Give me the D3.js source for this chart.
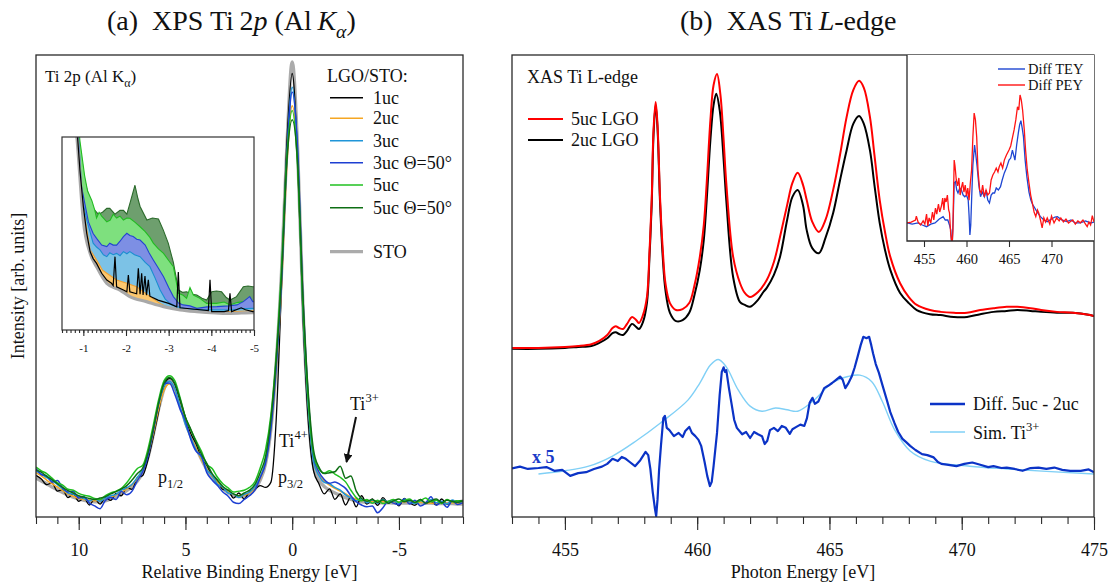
<!DOCTYPE html>
<html>
<head>
<meta charset="utf-8">
<script src="https://cdn.jsdelivr.net/npm/d3@7"></script>
<style>
  body { margin: 0; background: #fff; }
  svg { display: block; }
  text { font-family: "Liberation Serif", "Times New Roman", serif; fill: #111; }
</style>
</head>
<body>
<svg id="fig" width="1109" height="588"></svg>
<script>
// ---------------- Panel (a): XPS Ti 2p ----------------
// Relative binding energy grid (eV) shared by all XPS traces
const xpsEnergy = [
  12,11.75,11.5,11.25,11,10.75,10.5,10.25,10,9.75,
  9.5,9.25,9,8.75,8.5,8.25,8,7.75,7.5,7.25,
  7,6.75,6.5,6.25,6,5.75,5.5,5.25,5,4.75,
  4.5,4.25,4,3.75,3.5,3.25,3,2.75,2.5,2.25,
  2,1.75,1.5,1.25,1,0.75,0.5,0.25,0,-0.25,
  -0.5,-0.75,-1,-1.25,-1.5,-1.75,-2,-2.25,-2.5,-2.75,
  -3,-3.25,-3.5,-3.75,-4,-4.25,-4.5,-4.75,-5,-5.25,
  -5.5,-5.75,-6,-6.25,-6.5,-6.75,-7,-7.25,-7.5,-7.75,
  -8
];
const xpsSTO = [
  8.4,7.8,7.2,6.5,5.9,5.3,4.8,4.3,3.9,3.6,
  3.4,3.3,3.3,3.5,3.9,4.4,5.0,5.7,6.6,7.8,
  9.6,13.0,18.0,23.5,27.8,29.6,28.3,24.5,20.5,17.5,
  15.0,12.5,10.3,8.6,7.3,6.2,5.3,4.7,4.4,4.5,
  5.0,6.0,8.0,11.5,19.0,33.0,53.0,80.0,98.5,80.0,
  46.0,23.0,11.0,8.0,6.6,5.8,5.2,4.7,4.2,3.8,
  3.5,3.3,3.2,3.2,3.1,3.1,3.1,3.0,3.0,3.0,
  3.0,3.0,3.0,3.0,3.0,2.9,2.9,2.9,2.9,2.8,
  2.8
];
const xps1uc = [
  9.0,8.2,7.0,7.4,5.6,5.9,4.2,5.0,3.4,4.1,
  2.6,3.9,2.8,4.2,3.6,5.1,4.6,6.4,6.0,8.5,
  9.0,12.5,17.5,23.0,28.5,30.0,28.8,25.0,21.5,18.0,
  15.8,12.6,11.2,8.9,7.8,6.0,5.8,4.1,5.2,3.9,
  5.5,6.0,6.8,6.4,7.5,21.0,50.0,81.0,96.0,78.0,
  44.0,21.0,10.0,7.2,5.0,6.1,3.8,5.0,2.6,4.4,
  2.2,4.6,2.8,3.9,2.5,4.2,3.0,3.6,2.4,4.0,
  3.1,2.5,3.8,2.9,3.4,2.6,3.9,2.8,3.3,3.5,
  3.6
];
const xps2uc = [
  9.6,8.9,8.0,7.2,6.5,5.7,5.0,4.5,4.0,3.8,
  3.6,3.5,3.7,3.9,4.3,4.8,5.4,6.1,7.0,8.3,
  10.2,13.5,18.2,23.6,27.5,28.8,27.6,24.2,20.4,17.3,
  14.9,12.4,10.4,8.8,7.5,6.4,5.5,4.9,4.6,4.7,
  5.2,6.2,8.3,11.8,19.0,32.0,50.0,76.0,89.0,78.0,
  47.0,25.0,12.5,9.3,7.8,6.9,6.2,5.6,5.0,4.3,
  3.9,3.6,3.5,3.4,3.4,3.3,3.3,3.3,3.2,3.3,
  3.2,3.1,3.2,3.1,3.0,3.1,3.0,3.0,3.1,2.9,
  3.0
];
const xps3uc = [
  10.0,9.3,8.5,7.9,7.0,6.1,5.2,4.9,4.4,4.0,
  3.5,3.9,3.4,4.1,4.6,4.9,5.8,6.3,7.1,8.6,
  10.4,14.0,19.0,24.5,28.4,29.4,27.8,24.0,20.0,17.2,
  14.5,12.9,10.2,9.0,7.1,6.5,5.2,5.0,4.2,4.9,
  5.4,6.6,8.6,12.0,19.5,33.0,52.0,78.0,93.0,79.0,
  46.0,24.0,12.0,9.0,7.5,7.2,6.4,5.8,4.8,4.1,
  3.5,3.9,3.1,3.7,3.0,3.8,3.2,3.5,2.9,3.9,
  3.3,2.9,3.6,3.0,3.8,3.1,3.4,2.8,3.7,3.2,
  3.4
];
const xps3uc50 = [
  10.5,9.2,8.9,7.6,7.9,6.3,5.4,5.6,4.1,4.4,
  3.0,2.4,1.8,3.6,4.2,3.8,5.5,4.8,5.6,7.9,
  9.8,13.2,18.8,24.8,28.9,29.0,26.6,23.3,20.8,16.8,
  14.2,13.2,9.6,8.0,6.8,5.4,4.5,3.2,2.9,3.8,
  4.6,5.8,8.5,11.6,19.0,32.5,51.0,78.0,92.0,80.0,
  48.0,26.0,13.0,9.8,8.1,7.3,7.6,7.0,6.2,4.6,
  3.3,2.6,2.2,2.4,0.9,2.0,3.4,3.0,2.6,3.9,
  2.8,3.6,2.4,3.0,4.4,2.6,3.2,2.1,3.5,2.7,
  3.1
];
const xps5uc = [
  10.8,10.0,9.4,8.4,7.4,6.9,6.0,5.8,5.1,4.7,
  4.5,4.0,3.8,4.6,5.2,5.6,6.2,7.4,9.0,10.5,
  11.2,14.8,20.0,25.5,29.5,30.6,29.5,25.8,21.5,18.8,
  16.5,14.2,11.4,10.5,8.6,7.2,6.3,5.4,5.6,5.8,
  6.4,7.6,10.6,14.5,22.0,35.0,54.0,78.0,88.0,76.0,
  46.0,25.0,13.5,10.4,9.5,10.0,9.3,8.6,7.6,5.8,
  4.2,3.5,3.8,3.0,3.6,2.9,3.4,3.8,3.2,3.6,
  3.9,3.1,3.5,4.1,3.3,3.6,2.9,3.8,3.3,3.5,
  3.4
];
const xps5uc50 = [
  10.2,9.7,8.8,8.1,7.2,6.4,5.7,5.2,4.6,4.3,
  4.0,3.8,4.1,4.4,5.0,5.5,6.1,6.8,8.0,9.4,
  10.6,14.0,19.2,24.8,29.0,30.2,28.9,25.5,21.6,19.0,
  16.2,13.6,11.6,9.4,8.0,6.6,5.8,5.0,4.6,5.2,
  5.8,7.0,9.6,13.0,21.0,34.0,52.0,77.0,86.0,77.0,
  48.0,27.0,14.5,10.8,9.4,9.6,9.8,11.0,8.4,8.9,
  5.6,4.0,3.4,3.8,3.2,3.7,3.0,3.5,3.9,3.3,
  3.6,3.2,3.8,3.0,3.5,3.9,3.1,3.6,3.4,3.2,
  3.5
];

// Zoom of the Ti3+ region: [relative binding energy, intensity]
const zoomSTO = [[-0.45,300],[-0.80,115],[-0.88,91.5],[-1.0,57],[-1.16,39.7],[-1.31,32.8],[-1.55,24.2],[-1.86,20.7],[-2.09,17.3],[-2.48,14.7],[-2.88,12.1],[-3.27,10.4],[-3.66,9.5],[-4.44,8.6],[-4.97,9.0],[-5.1,9.0]];
const zoom1uc = [[-0.45,300],[-0.80,120],[-0.92,82.9],[-1.0,64],[-1.08,50],[-1.16,40.5],[-1.23,37],[-1.31,34.5],[-1.43,29.4],[-1.55,25.9],[-1.66,24.2],[-1.70,23],[-1.742,38],[-1.78,22.4],[-1.94,20.7],[-2.02,19.8],[-2.055,28.5],[-2.09,19.8],[-2.25,18.8],[-2.289,32],[-2.33,18.5],[-2.367,29.4],[-2.40,18.2],[-2.445,28],[-2.48,18],[-2.523,26],[-2.56,17.5],[-2.75,15.5],[-3.0,13.8],[-3.19,12],[-3.226,30],[-3.265,11.5],[-3.5,11],[-3.93,10],[-3.969,26],[-4.008,9.5],[-4.3,9.5],[-4.40,10],[-4.437,19],[-4.475,9.5],[-4.7,11.5],[-4.8,10.5],[-4.97,9.5],[-5.1,9.5]];
const zoom2uc = [[-0.45,300],[-0.80,110],[-0.92,74],[-1.08,52],[-1.16,41.5],[-1.31,36.3],[-1.45,31],[-1.55,29.4],[-1.78,25.9],[-2.02,24.2],[-2.25,22.4],[-2.4,20],[-2.56,17.3],[-2.8,13.8],[-3.03,11.2],[-3.5,9.5],[-4.1,9.5],[-4.5,9.6],[-4.97,10],[-5.1,10]];
const zoom3uc = [[-0.45,300],[-0.80,125],[-0.96,69],[-1.08,57],[-1.23,45],[-1.31,43],[-1.39,41.5],[-1.47,39],[-1.55,38],[-1.62,40],[-1.70,39],[-1.78,39.7],[-1.86,38.5],[-1.94,40.6],[-2.02,39.5],[-2.09,40.6],[-2.20,39],[-2.33,38],[-2.45,35],[-2.56,32.8],[-2.68,27],[-2.8,20.7],[-2.92,16],[-3.03,13.8],[-3.19,12.1],[-3.4,11],[-3.66,10.4],[-4.0,10.5],[-4.44,10.4],[-4.7,11],[-4.97,11.2],[-5.1,11.2]];
const zoom3uc50 = [[-0.45,300],[-0.80,130],[-0.96,74],[-1.04,65],[-1.12,56],[-1.23,50],[-1.31,47.5],[-1.43,44],[-1.55,43.2],[-1.62,45],[-1.70,44],[-1.78,44],[-1.86,46],[-1.94,48.4],[-2.02,50.1],[-2.09,49],[-2.17,48.4],[-2.25,47],[-2.33,46.6],[-2.45,44],[-2.54,40],[-2.64,36.3],[-2.76,32],[-2.88,27.6],[-3.0,22],[-3.11,17.3],[-3.23,14],[-3.34,13],[-3.5,12.5],[-3.66,11.2],[-3.9,12],[-4.13,12.1],[-4.4,12.5],[-4.6,13],[-4.75,14.7],[-4.9,17.3],[-4.97,14.7],[-5.1,14.7]];
const zoom5uc = [[-0.45,300],[-0.80,130],[-0.92,98],[-1.03,80],[-1.10,72],[-1.2,67],[-1.27,62],[-1.31,58],[-1.37,61],[-1.43,59],[-1.55,56],[-1.63,57],[-1.70,60],[-1.78,58],[-1.86,59],[-1.94,57],[-2.02,58],[-2.09,57.9],[-2.2,56],[-2.33,53.5],[-2.45,51],[-2.56,48],[-2.64,45],[-2.76,42],[-2.88,39.7],[-3.0,36],[-3.11,32.8],[-3.23,19],[-3.34,18],[-3.42,16.4],[-3.5,22],[-3.58,18.1],[-3.73,16.4],[-3.89,13.8],[-4.12,13.8],[-4.30,14.5],[-4.44,13],[-4.6,14.2],[-4.75,14.7],[-4.97,14.7],[-5.1,14.7]];
const zoom5uc50 = [[-0.45,300],[-0.80,130],[-0.88,98],[-1.0,80],[-1.12,70],[-1.23,63],[-1.35,60],[-1.45,61],[-1.55,63],[-1.62,63],[-1.74,60],[-1.86,62],[-1.94,62],[-2.02,60],[-2.11,67],[-2.21,75],[-2.28,68],[-2.33,64],[-2.49,57],[-2.62,58],[-2.76,57.5],[-2.87,52],[-2.99,45],[-3.11,35],[-3.23,20.7],[-3.33,19.5],[-3.42,19.8],[-3.55,18.5],[-3.66,18.1],[-3.78,16.5],[-3.89,15.5],[-4.01,19.8],[-4.12,20.2],[-4.24,19.8],[-4.35,16.8],[-4.44,15.5],[-4.59,17.3],[-4.75,22.4],[-4.86,22.8],[-4.97,22.4],[-5.1,22.4]];

// ---------------- Panel (b): XAS Ti L-edge ----------------
// [photon energy (eV), intensity]
const xas5uc = [[453,36.6],[454,36.6],[455,36.8],[455.5,37.0],[456,37.4],[456.3,38.1],[456.6,39.4],[456.8,40.9],[456.92,41.3],[457.05,40.9],[457.2,40.7],[457.35,41.8],[457.54,43.3],[457.7,42.6],[457.8,42.0],[457.95,43.7],[458.1,47.6],[458.2,57.8],[458.28,68.6],[458.35,83.8],[458.43,89.8],[458.5,84.9],[458.6,68.6],[458.7,57.8],[458.8,50.6],[458.97,46.3],[459.2,44.8],[459.45,45.0],[459.7,46.3],[459.9,50.2],[460.1,56.3],[460.25,63.2],[460.36,72.3],[460.5,85.9],[460.62,93.5],[460.75,95.9],[460.88,91.3],[461.0,81.6],[461.1,72.3],[461.36,56.3],[461.62,50.6],[461.8,48.5],[462.0,47.6],[462.3,48.7],[462.63,51.3],[462.9,55.2],[463.13,60.6],[463.4,67.5],[463.6,72.3],[463.8,74.5],[464.0,71.9],[464.14,68.6],[464.35,63.9],[464.6,61.7],[464.85,64.3],[465.14,70.8],[465.4,78.4],[465.65,86.6],[465.9,92.4],[466.12,94.4],[466.3,92.9],[466.53,86.6],[466.7,78.4],[466.9,68.6],[467.1,61.7],[467.3,56.3],[467.67,50.6],[468.0,47.6],[468.3,45.9],[468.8,44.8],[469.2,44.4],[469.7,44.2],[470.2,44.2],[470.7,44.8],[471.2,45.2],[471.7,45.5],[472.1,45.5],[472.6,45.2],[473.0,44.8],[473.6,44.4],[474.2,44.2],[474.85,43.7],[475,43.5]];
const xas2uc = [[453,36.4],[454,36.4],[455,36.6],[455.5,36.8],[456,37.0],[456.3,37.7],[456.6,38.7],[456.8,39.8],[456.92,40.0],[457.05,39.6],[457.2,39.4],[457.35,40.3],[457.54,41.8],[457.7,41.1],[457.8,40.7],[457.95,42.2],[458.1,46.3],[458.2,56.7],[458.28,67.5],[458.35,82.7],[458.43,89.2],[458.5,84.2],[458.6,67.5],[458.7,56.1],[458.8,49.1],[458.97,44.2],[459.2,42.4],[459.45,42.6],[459.7,44.2],[459.9,48.1],[460.1,53.5],[460.25,60.0],[460.36,68.6],[460.5,81.6],[460.62,89.2],[460.72,91.6],[460.85,88.1],[461.0,77.3],[461.1,68.6],[461.36,51.9],[461.62,46.5],[461.8,45.9],[462.0,45.5],[462.3,47.0],[462.5,48.7],[462.63,49.6],[462.9,52.4],[463.13,56.3],[463.4,64.3],[463.6,69.3],[463.8,70.8],[464.0,67.5],[464.14,62.1],[464.35,58.2],[464.6,57.1],[464.85,60.4],[465.14,65.8],[465.4,72.9],[465.65,79.4],[465.9,85.1],[466.12,86.8],[466.3,85.1],[466.53,79.4],[466.7,71.9],[466.9,63.6],[467.1,57.8],[467.3,53.5],[467.67,48.5],[468.0,46.3],[468.3,44.8],[468.8,43.9],[469.2,43.7],[469.7,43.3],[470.2,43.3],[470.7,43.9],[471.2,44.4],[471.7,44.6],[472.1,44.8],[472.6,44.6],[473.0,44.4],[473.6,44.2],[474.2,44.2],[474.85,43.7],[475,43.5]];
const xasDiff = [[453.0,10.5],[453.3,10.9],[453.6,10.4],[454.0,10.6],[454.3,10.8],[454.6,10.0],[454.9,10.2],[455.2,8.9],[455.5,9.5],[455.8,9.7],[456.1,10.4],[456.4,10.9],[456.6,11.5],[456.8,12.6],[457.0,12.1],[457.15,13.0],[457.3,12.6],[457.45,11.9],[457.65,11.0],[457.85,12.3],[458.05,14.1],[458.15,13.4],[458.23,10.4],[458.32,5.4],[458.4,1.9],[458.45,0.2],[458.5,3.7],[458.56,10.2],[458.63,15.4],[458.72,21.4],[458.78,21.9],[458.85,19.3],[458.95,18.8],[459.12,17.5],[459.3,18.2],[459.45,17.3],[459.55,18.6],[459.7,19.5],[459.8,18.2],[459.93,17.5],[460.05,16.7],[460.15,15.4],[460.28,11.9],[460.38,8.9],[460.48,6.7],[460.55,7.6],[460.62,11.0],[460.75,18.2],[460.85,26.4],[460.93,31.4],[461.0,32.4],[461.05,31.4],[461.1,31.8],[461.2,27.9],[461.3,24.5],[461.4,21.0],[461.5,19.3],[461.7,17.9],[461.85,18.4],[462.0,17.1],[462.15,18.4],[462.3,17.9],[462.45,17.5],[462.55,15.8],[462.65,16.5],[462.75,18.8],[462.9,19.3],[463.05,18.6],[463.2,19.7],[463.35,19.3],[463.5,18.0],[463.6,19.0],[463.75,19.5],[463.9,20.0],[464.05,19.7],[464.15,21.4],[464.25,24.7],[464.36,25.8],[464.45,24.5],[464.58,25.0],[464.7,26.6],[464.8,27.9],[464.95,28.4],[465.1,29.0],[465.25,29.7],[465.4,30.4],[465.5,29.7],[465.6,27.9],[465.7,28.8],[465.84,30.4],[465.95,32.3],[466.06,34.6],[466.18,37.2],[466.28,39.0],[466.4,38.7],[466.5,39.0],[466.58,37.2],[466.65,35.4],[466.75,33.1],[466.87,31.2],[467.0,28.6],[467.17,25.3],[467.3,22.7],[467.46,20.3],[467.6,18.4],[467.76,16.9],[467.9,16.2],[468.05,15.4],[468.25,14.5],[468.5,13.6],[468.7,13.4],[468.94,12.9],[469.1,11.9],[469.23,11.5],[469.5,11.3],[469.8,11.0],[470.1,11.5],[470.4,11.8],[470.7,11.3],[471.0,10.8],[471.2,11.0],[471.5,10.6],[471.7,10.7],[472.0,10.4],[472.3,10.0],[472.6,10.6],[472.9,10.7],[473.2,10.4],[473.5,10.7],[473.8,10.2],[474.1,10.0],[474.5,10.0],[474.8,10.3],[475.0,9.7]];
const xasSimTi3 = [[454,9.3],[455,10.0],[455.9,11.0],[456.8,13.2],[457.7,16.5],[458.6,20.3],[459.65,25.3],[460.1,29.0],[460.5,32.9],[460.8,34.1],[461.1,32.5],[461.55,27.5],[462.0,24.0],[462.45,22.9],[462.96,23.6],[463.4,23.2],[463.8,22.9],[464.36,25.0],[465.1,29.0],[465.7,30.4],[466.15,30.7],[466.6,29.3],[467.0,25.0],[467.46,18.9],[468.05,14.3],[468.8,12.1],[470.3,11.0],[471.7,10.4],[475,9.3]];
const diffTEY = [[453,9.8],[453.6,9.1],[454.3,9.7],[454.8,8.6],[455.3,7.7],[455.8,9.1],[456.3,9.7],[456.8,11.8],[457.25,13.1],[457.5,11.3],[457.8,11.3],[458.0,8.6],[458.15,5.9],[458.3,-5],[458.45,14.0],[458.55,31.2],[458.7,31.9],[458.85,27.4],[459.0,25.8],[459.2,28.5],[459.4,27.4],[459.6,24.7],[459.8,23.8],[460.0,24.7],[460.2,22.0],[460.3,14.0],[460.4,3.2],[460.5,8.6],[460.6,22.0],[460.75,40.9],[460.95,51.6],[461.1,46.2],[461.25,39.9],[461.45,30.1],[461.65,23.8],[461.85,26.3],[462.1,23.8],[462.3,27.4],[462.5,22.0],[462.7,20.4],[462.9,24.7],[463.1,25.8],[463.3,25.8],[463.5,28.5],[463.75,27.4],[464.0,29.2],[464.2,32.8],[464.45,36.6],[464.7,39.2],[465.0,43.5],[465.2,44.6],[465.4,48.9],[465.55,46.2],[465.7,43.5],[465.9,51.6],[466.1,58.1],[466.25,62.4],[466.4,64.7],[466.55,60.8],[466.7,56.1],[466.9,43.5],[467.1,34.6],[467.35,26.3],[467.57,22.0],[467.8,19.4],[467.95,18.4],[468.3,15.6],[468.7,13.1],[469.1,11.3],[469.5,10.4],[470.0,11.8],[470.4,12.9],[470.7,13.1],[471.2,11.3],[471.8,10.4],[472.3,11.3],[472.8,9.7],[473.4,9.7],[474.0,10.8],[474.6,9.7],[475,10.2]];
const diffPEY = [[453,9.7],[453.5,10.2],[454.0,11.3],[454.1,13.4],[454.3,10.2],[454.6,8.6],[454.9,10.8],[455.1,9.1],[455.3,14.5],[455.45,8.1],[455.6,12.4],[455.8,9.7],[456.0,15.6],[456.15,11.3],[456.35,17.7],[456.5,14.5],[456.7,19.9],[456.85,15.6],[457.05,18.8],[457.2,23.1],[457.35,16.7],[457.45,23.1],[457.6,21.0],[457.75,24.7],[457.9,16.7],[458.0,15.1],[458.15,3.2],[458.3,-2.2],[458.4,5.9],[458.55,43.5],[458.65,40.3],[458.8,32.8],[458.95,29.6],[459.1,33.9],[459.25,24.7],[459.4,28.5],[459.55,31.7],[459.7,26.3],[459.85,30.1],[460.0,24.2],[460.15,28.5],[460.3,22.0],[460.45,31.2],[460.6,38.2],[460.75,55.9],[460.9,68.8],[461.05,65.1],[461.2,55.9],[461.35,38.2],[461.55,27.4],[461.75,25.8],[461.9,30.1],[462.1,23.7],[462.3,27.4],[462.5,24.7],[462.7,25.8],[462.9,32.8],[463.1,35.5],[463.3,37.1],[463.5,39.2],[463.7,37.1],[463.85,39.9],[464.05,41.9],[464.25,39.2],[464.45,43.5],[464.7,46.2],[465.0,48.9],[465.2,51.1],[465.4,55.4],[465.6,59.7],[465.8,65.1],[466.0,72.2],[466.15,70.4],[466.3,78.5],[466.45,75.8],[466.6,70.4],[466.8,59.7],[466.95,48.9],[467.15,38.2],[467.35,31.2],[467.55,24.7],[467.75,20.4],[467.95,15.6],[468.15,13.1],[468.35,16.7],[468.5,15.1],[468.7,11.3],[468.9,7.0],[469.1,12.4],[469.3,10.2],[469.5,12.4],[469.8,9.1],[470.0,13.4],[470.3,9.7],[470.6,12.4],[470.9,10.8],[471.1,12.4],[471.4,10.2],[471.7,11.8],[472.0,9.7],[472.2,10.4],[472.5,11.3],[472.8,9.1],[473.1,10.8],[473.4,9.8],[473.7,11.3],[474.0,9.1],[474.2,7.7],[474.4,10.2],[474.6,8.6],[474.8,13.6],[475,10.2]];

// Axis tick values
const xpsMajorTicks = [10, 5, 0, -5];
const xpsZoomTicks = [-1, -2, -3, -4, -5];
const xasMajorTicks = [455, 460, 465, 470, 475];
const xasInsetTicks = [455, 460, 465, 470];

// ---------------- drawing ----------------
const svg = d3.select("#fig");
const frameColor = "#2a2a2a";

function richText(parent, x, y, parts, size, opts = {}) {
  const t = parent.append("text")
    .attr("x", x).attr("y", y)
    .attr("font-size", size)
    .attr("text-anchor", opts.anchor || "start")
    .attr("font-weight", opts.bold ? "bold" : null)
    .style("fill", opts.fill || "#111");
  let shift = 0;
  parts.forEach(p => {
    const s = t.append("tspan").text(p.t);
    const target = p.sub ? size * 0.28 : p.sup ? -size * 0.45 : 0;
    if (target !== shift) s.attr("dy", target - shift);
    shift = target;
    if (p.sub || p.sup) s.attr("font-size", size * 0.7);
    if (p.it) s.attr("font-style", "italic");
  });
  return t;
}

function styleAxis(g, fontSize) {
  g.select(".domain").remove();
  g.selectAll(".tick line").attr("stroke", frameColor).attr("stroke-width", 1.1);
  g.selectAll(".tick text").attr("font-size", fontSize)
    .style("font-family", '"Liberation Serif","Times New Roman",serif').style("fill", "#111");
}

// ===== Panel (a) =====
const A = { x0: 36, x1: 463, y0: 55, y1: 517 };
const xA = d3.scaleLinear().domain([12, -8]).range([A.x0, A.x1]);
const yA = d3.scaleLinear().domain([0, 100]).range([A.y1, A.y0]);

svg.append("clipPath").attr("id", "clipA")
  .append("rect").attr("x", A.x0).attr("y", A.y0).attr("width", A.x1 - A.x0).attr("height", A.y1 - A.y0);

const xpsSeries = [
  { label: "STO", values: xpsSTO, color: "#ababab", width: 3.4 },
  { label: "1uc", values: xps1uc, color: "#000000", width: 1.3 },
  { label: "2uc", values: xps2uc, color: "#f5a623", width: 1.5 },
  { label: "3uc", values: xps3uc, color: "#1f95d8", width: 1.5 },
  { label: "3uc Θ=50°", values: xps3uc50, color: "#1d3fd2", width: 1.5 },
  { label: "5uc", values: xps5uc, color: "#20c020", width: 1.5 },
  { label: "5uc Θ=50°", values: xps5uc50, color: "#0e6e14", width: 1.5 }
];

const lineA = d3.line()
  .x((d, i) => xA(xpsEnergy[i]))
  .y(d => yA(d))
  .curve(d3.curveMonotoneX);

const gA = svg.append("g").attr("clip-path", "url(#clipA)");
xpsSeries.forEach(s => {
  gA.append("path").datum(s.values).attr("d", lineA)
    .attr("fill", "none").attr("stroke", s.color).attr("stroke-width", s.width)
    .attr("stroke-linejoin", "round");
});

// frame
svg.append("rect").attr("x", A.x0).attr("y", A.y0).attr("width", A.x1 - A.x0).attr("height", A.y1 - A.y0)
  .attr("fill", "none").attr("stroke", frameColor).attr("stroke-width", 1.3);

// x axis
svg.append("g").attr("transform", `translate(0,${A.y1})`)
  .call(d3.axisBottom(xA).tickValues(d3.range(-8, 13, 1)).tickSize(7).tickFormat(""))
  .call(g => styleAxis(g, 18));
svg.append("g").attr("transform", `translate(0,${A.y1})`)
  .call(d3.axisBottom(xA).tickValues(xpsMajorTicks).tickSize(13).tickPadding(13).tickFormat(d => String(d)))
  .call(g => styleAxis(g, 18));

svg.append("text").attr("x", (A.x0 + A.x1) / 2).attr("y", 578).attr("text-anchor", "middle")
  .attr("font-size", 18).text("Relative Binding Energy [eV]");
svg.append("text").attr("transform", `translate(24,${(A.y0 + A.y1) / 2}) rotate(-90)`)
  .attr("text-anchor", "middle").attr("font-size", 18).text("Intensity [arb. units]");

// title (a)
richText(svg, 107, 30, [
  { t: "(a)\u00a0\u00a0XPS Ti\u2009" + "2" }, { t: "p", it: true }, { t: " (Al\u2009" },
  { t: "K", it: true }, { t: "α", it: true, sub: true }, { t: ")" }
], 28);

// panel label
richText(svg, 45, 82, [{ t: "Ti 2p (Al K" }, { t: "α", sub: true }, { t: ")" }], 17);

// legend (a)
svg.append("text").attr("x", 327).attr("y", 82).attr("font-size", 18).text("LGO/STO:");
const legendOrder = ["1uc", "2uc", "3uc", "3uc Θ=50°", "5uc", "5uc Θ=50°", "STO"];
const legendRows = [97.7, 118.3, 140.7, 162.7, 185, 207.7, 251.7];
legendOrder.forEach((lab, i) => {
  const s = xpsSeries.find(d => d.label === lab);
  const yy = legendRows[i];
  svg.append("line").attr("x1", 330).attr("x2", 363).attr("y1", yy).attr("y2", yy)
    .attr("stroke", s.color).attr("stroke-width", lab === "STO" ? 3.2 : 1.6);
  svg.append("text").attr("x", 373).attr("y", yy + 6).attr("font-size", 18).text(lab);
});

// peak annotations
richText(svg, 158, 483, [{ t: "p" }, { t: "1/2", sub: true }], 18);
richText(svg, 278, 483, [{ t: "p" }, { t: "3/2", sub: true }], 18);
richText(svg, 279, 447, [{ t: "Ti" }, { t: "4+", sup: true }], 18);
richText(svg, 350, 410, [{ t: "Ti" }, { t: "3+", sup: true }], 18);
svg.append("defs").append("marker").attr("id", "arrowHead")
  .attr("viewBox", "0 0 10 10").attr("refX", 9).attr("refY", 5)
  .attr("markerWidth", 9).attr("markerHeight", 9).attr("markerUnits", "userSpaceOnUse")
  .attr("orient", "auto")
  .append("path").attr("d", "M0,0 L10,5 L0,10 z").attr("fill", "#111");
svg.append("line").attr("x1", 356).attr("y1", 417).attr("x2", 346.5).attr("y2", 462)
  .attr("stroke", "#111").attr("stroke-width", 2).attr("marker-end", "url(#arrowHead)");

// ----- zoom inset in panel (a) -----
const I = { x0: 62, x1: 254, y0: 137, y1: 330 };
const xI = d3.scaleLinear().domain([-0.5, -5]).range([I.x0, I.x1]);
const yI = d3.scaleLinear().domain([0, 100]).range([I.y1, I.y0]);
svg.append("clipPath").attr("id", "clipI")
  .append("rect").attr("x", I.x0).attr("y", I.y0).attr("width", I.x1 - I.x0).attr("height", I.y1 - I.y0);
svg.append("rect").attr("x", I.x0).attr("y", I.y0).attr("width", I.x1 - I.x0).attr("height", I.y1 - I.y0)
  .attr("fill", "#fff");

const gI = svg.append("g").attr("clip-path", "url(#clipI)");
const areaI = d3.area().x(d => xI(d[0])).y0(yI(0)).y1(d => yI(d[1])).curve(d3.curveLinear);
const lineI = d3.line().x(d => xI(d[0])).y(d => yI(d[1])).curve(d3.curveLinear);

const zoomFills = [
  { values: zoom5uc50, fill: "#6e9f6e", stroke: "#2b6a2b" },
  { values: zoom5uc, fill: "#7ee07e", stroke: "#22bb22" },
  { values: zoom3uc50, fill: "#7d8fe4", stroke: "#2444d0" },
  { values: zoom3uc, fill: "#7cc2e6", stroke: "#1b8fd0" },
  { values: zoom2uc, fill: "#fcc76e", stroke: "#f0a030" }
];
zoomFills.forEach(s => {
  gI.append("path").datum(s.values).attr("d", areaI).attr("fill", s.fill).attr("stroke", "none");
  gI.append("path").datum(s.values).attr("d", lineI).attr("fill", "none")
    .attr("stroke", s.stroke).attr("stroke-width", 1.1);
});
gI.append("path").datum(zoomSTO).attr("d", areaI.curve(d3.curveMonotoneX)).attr("fill", "#fff");
gI.append("path").datum(zoomSTO).attr("d", lineI.curve(d3.curveMonotoneX)).attr("fill", "none")
  .attr("stroke", "#a8a8a8").attr("stroke-width", 3.2);
gI.append("path").datum(zoom1uc).attr("d", d3.line().x(d => xI(d[0])).y(d => yI(d[1])))
  .attr("fill", "none").attr("stroke", "#000").attr("stroke-width", 1.2);

svg.append("rect").attr("x", I.x0).attr("y", I.y0).attr("width", I.x1 - I.x0).attr("height", I.y1 - I.y0)
  .attr("fill", "none").attr("stroke", "#333").attr("stroke-width", 1.2);
svg.append("g").attr("transform", `translate(0,${I.y1})`)
  .call(d3.axisBottom(xI).tickValues(d3.range(-5, -0.45, 0.1)).tickSize(3).tickFormat(""))
  .call(g => styleAxis(g, 11));
svg.append("g").attr("transform", `translate(0,${I.y1})`)
  .call(d3.axisBottom(xI).tickValues(xpsZoomTicks).tickSize(6).tickPadding(8).tickFormat(d => String(d)))
  .call(g => styleAxis(g, 11));

// ===== Panel (b) =====
const B = { x0: 512, x1: 1094, y0: 55, y1: 517 };
const xB = d3.scaleLinear().domain([453, 475]).range([B.x0, B.x1]);
const yB = d3.scaleLinear().domain([0, 100]).range([B.y1, B.y0]);
svg.append("clipPath").attr("id", "clipB")
  .append("rect").attr("x", B.x0).attr("y", B.y0).attr("width", B.x1 - B.x0).attr("height", B.y1 - B.y0);
const gB = svg.append("g").attr("clip-path", "url(#clipB)");

const smoothB = d3.line().x(d => xB(d[0])).y(d => yB(d[1])).curve(d3.curveCatmullRom.alpha(0.5));
const rawB = d3.line().x(d => xB(d[0])).y(d => yB(d[1]));

gB.append("path").datum(xasSimTi3).attr("d", smoothB).attr("fill", "none")
  .attr("stroke", "#80d0f6").attr("stroke-width", 1.4);
gB.append("path").datum(xasDiff).attr("d", rawB).attr("fill", "none")
  .attr("stroke", "#0b33c6").attr("stroke-width", 2.2).attr("stroke-linejoin", "round");
gB.append("path").datum(xas2uc).attr("d", smoothB).attr("fill", "none")
  .attr("stroke", "#000").attr("stroke-width", 2);
gB.append("path").datum(xas5uc).attr("d", smoothB).attr("fill", "none")
  .attr("stroke", "#ff0000").attr("stroke-width", 2);

svg.append("rect").attr("x", B.x0).attr("y", B.y0).attr("width", B.x1 - B.x0).attr("height", B.y1 - B.y0)
  .attr("fill", "none").attr("stroke", frameColor).attr("stroke-width", 1.3);
svg.append("g").attr("transform", `translate(0,${B.y1})`)
  .call(d3.axisBottom(xB).tickValues(d3.range(453, 476, 1)).tickSize(7).tickFormat(""))
  .call(g => styleAxis(g, 18));
svg.append("g").attr("transform", `translate(0,${B.y1})`)
  .call(d3.axisBottom(xB).tickValues(xasMajorTicks).tickSize(13).tickPadding(13).tickFormat(d => String(d)))
  .call(g => styleAxis(g, 18));
svg.append("text").attr("x", (B.x0 + B.x1) / 2).attr("y", 578).attr("text-anchor", "middle")
  .attr("font-size", 18).text("Photon Energy [eV]");

// title (b)
richText(svg, 680, 30, [{ t: "(b)\u00a0\u00a0XAS Ti\u2009" }, { t: "L", it: true }, { t: "-edge" }], 28);

// labels and legends
svg.append("text").attr("x", 527).attr("y", 83).attr("font-size", 18).text("XAS Ti L-edge");
[{ t: "5uc LGO", c: "#ff0000", y: 119 }, { t: "2uc LGO", c: "#000", y: 140 }].forEach(d => {
  svg.append("line").attr("x1", 528).attr("x2", 563).attr("y1", d.y).attr("y2", d.y)
    .attr("stroke", d.c).attr("stroke-width", 2);
  svg.append("text").attr("x", 571).attr("y", d.y + 6).attr("font-size", 18).text(d.t);
});
svg.append("line").attr("x1", 930).attr("x2", 965).attr("y1", 404).attr("y2", 404)
  .attr("stroke", "#0b33c6").attr("stroke-width", 2.4);
svg.append("text").attr("x", 973).attr("y", 410).attr("font-size", 18).text("Diff. 5uc - 2uc");
svg.append("line").attr("x1", 930).attr("x2", 965).attr("y1", 432).attr("y2", 432)
  .attr("stroke", "#80d0f6").attr("stroke-width", 1.4);
richText(svg, 973, 439, [{ t: "Sim. Ti" }, { t: "3+", sup: true }], 18);
richText(svg, 532, 463, [{ t: "x 5" }], 18, { bold: true, fill: "#1a3cc8" });

// ----- inset in panel (b) -----
const J = { x0: 907, x1: 1094, y0: 55, y1: 241 };
const xJ = d3.scaleLinear().domain([453, 475]).range([J.x0, J.x1]);
const yJ = d3.scaleLinear().domain([0, 100]).range([J.y1, J.y0]);
svg.append("rect").attr("x", J.x0).attr("y", J.y0).attr("width", J.x1 - J.x0).attr("height", J.y1 - J.y0)
  .attr("fill", "#fff");
svg.append("clipPath").attr("id", "clipJ")
  .append("rect").attr("x", J.x0).attr("y", J.y0).attr("width", J.x1 - J.x0).attr("height", J.y1 - J.y0);
const gJ = svg.append("g").attr("clip-path", "url(#clipJ)");
const lineJ = d3.line().x(d => xJ(d[0])).y(d => yJ(d[1]));
gJ.append("path").datum(diffTEY).attr("d", lineJ).attr("fill", "none")
  .attr("stroke", "#1e46d2").attr("stroke-width", 1.3);
gJ.append("path").datum(diffPEY).attr("d", lineJ).attr("fill", "none")
  .attr("stroke", "#ff1414").attr("stroke-width", 1.3);
svg.append("path")
  .attr("d", `M${J.x0},${J.y0} V${J.y1} H${J.x1}`)
  .attr("fill", "none").attr("stroke", frameColor).attr("stroke-width", 1.3);
svg.append("g").attr("transform", `translate(0,${J.y1})`)
  .call(d3.axisBottom(xJ).tickValues(xasInsetTicks).tickSize(6).tickPadding(7).tickFormat(d => String(d)))
  .call(g => styleAxis(g, 14.5));
[{ t: "Diff TEY", c: "#1e46d2", y: 69 }, { t: "Diff PEY", c: "#ff1414", y: 85 }].forEach(d => {
  svg.append("line").attr("x1", 998).attr("x2", 1025).attr("y1", d.y).attr("y2", d.y)
    .attr("stroke", d.c).attr("stroke-width", 1.4);
  svg.append("text").attr("x", 1028).attr("y", d.y + 5).attr("font-size", 14.5).text(d.t);
});
</script>
</body>
</html>
